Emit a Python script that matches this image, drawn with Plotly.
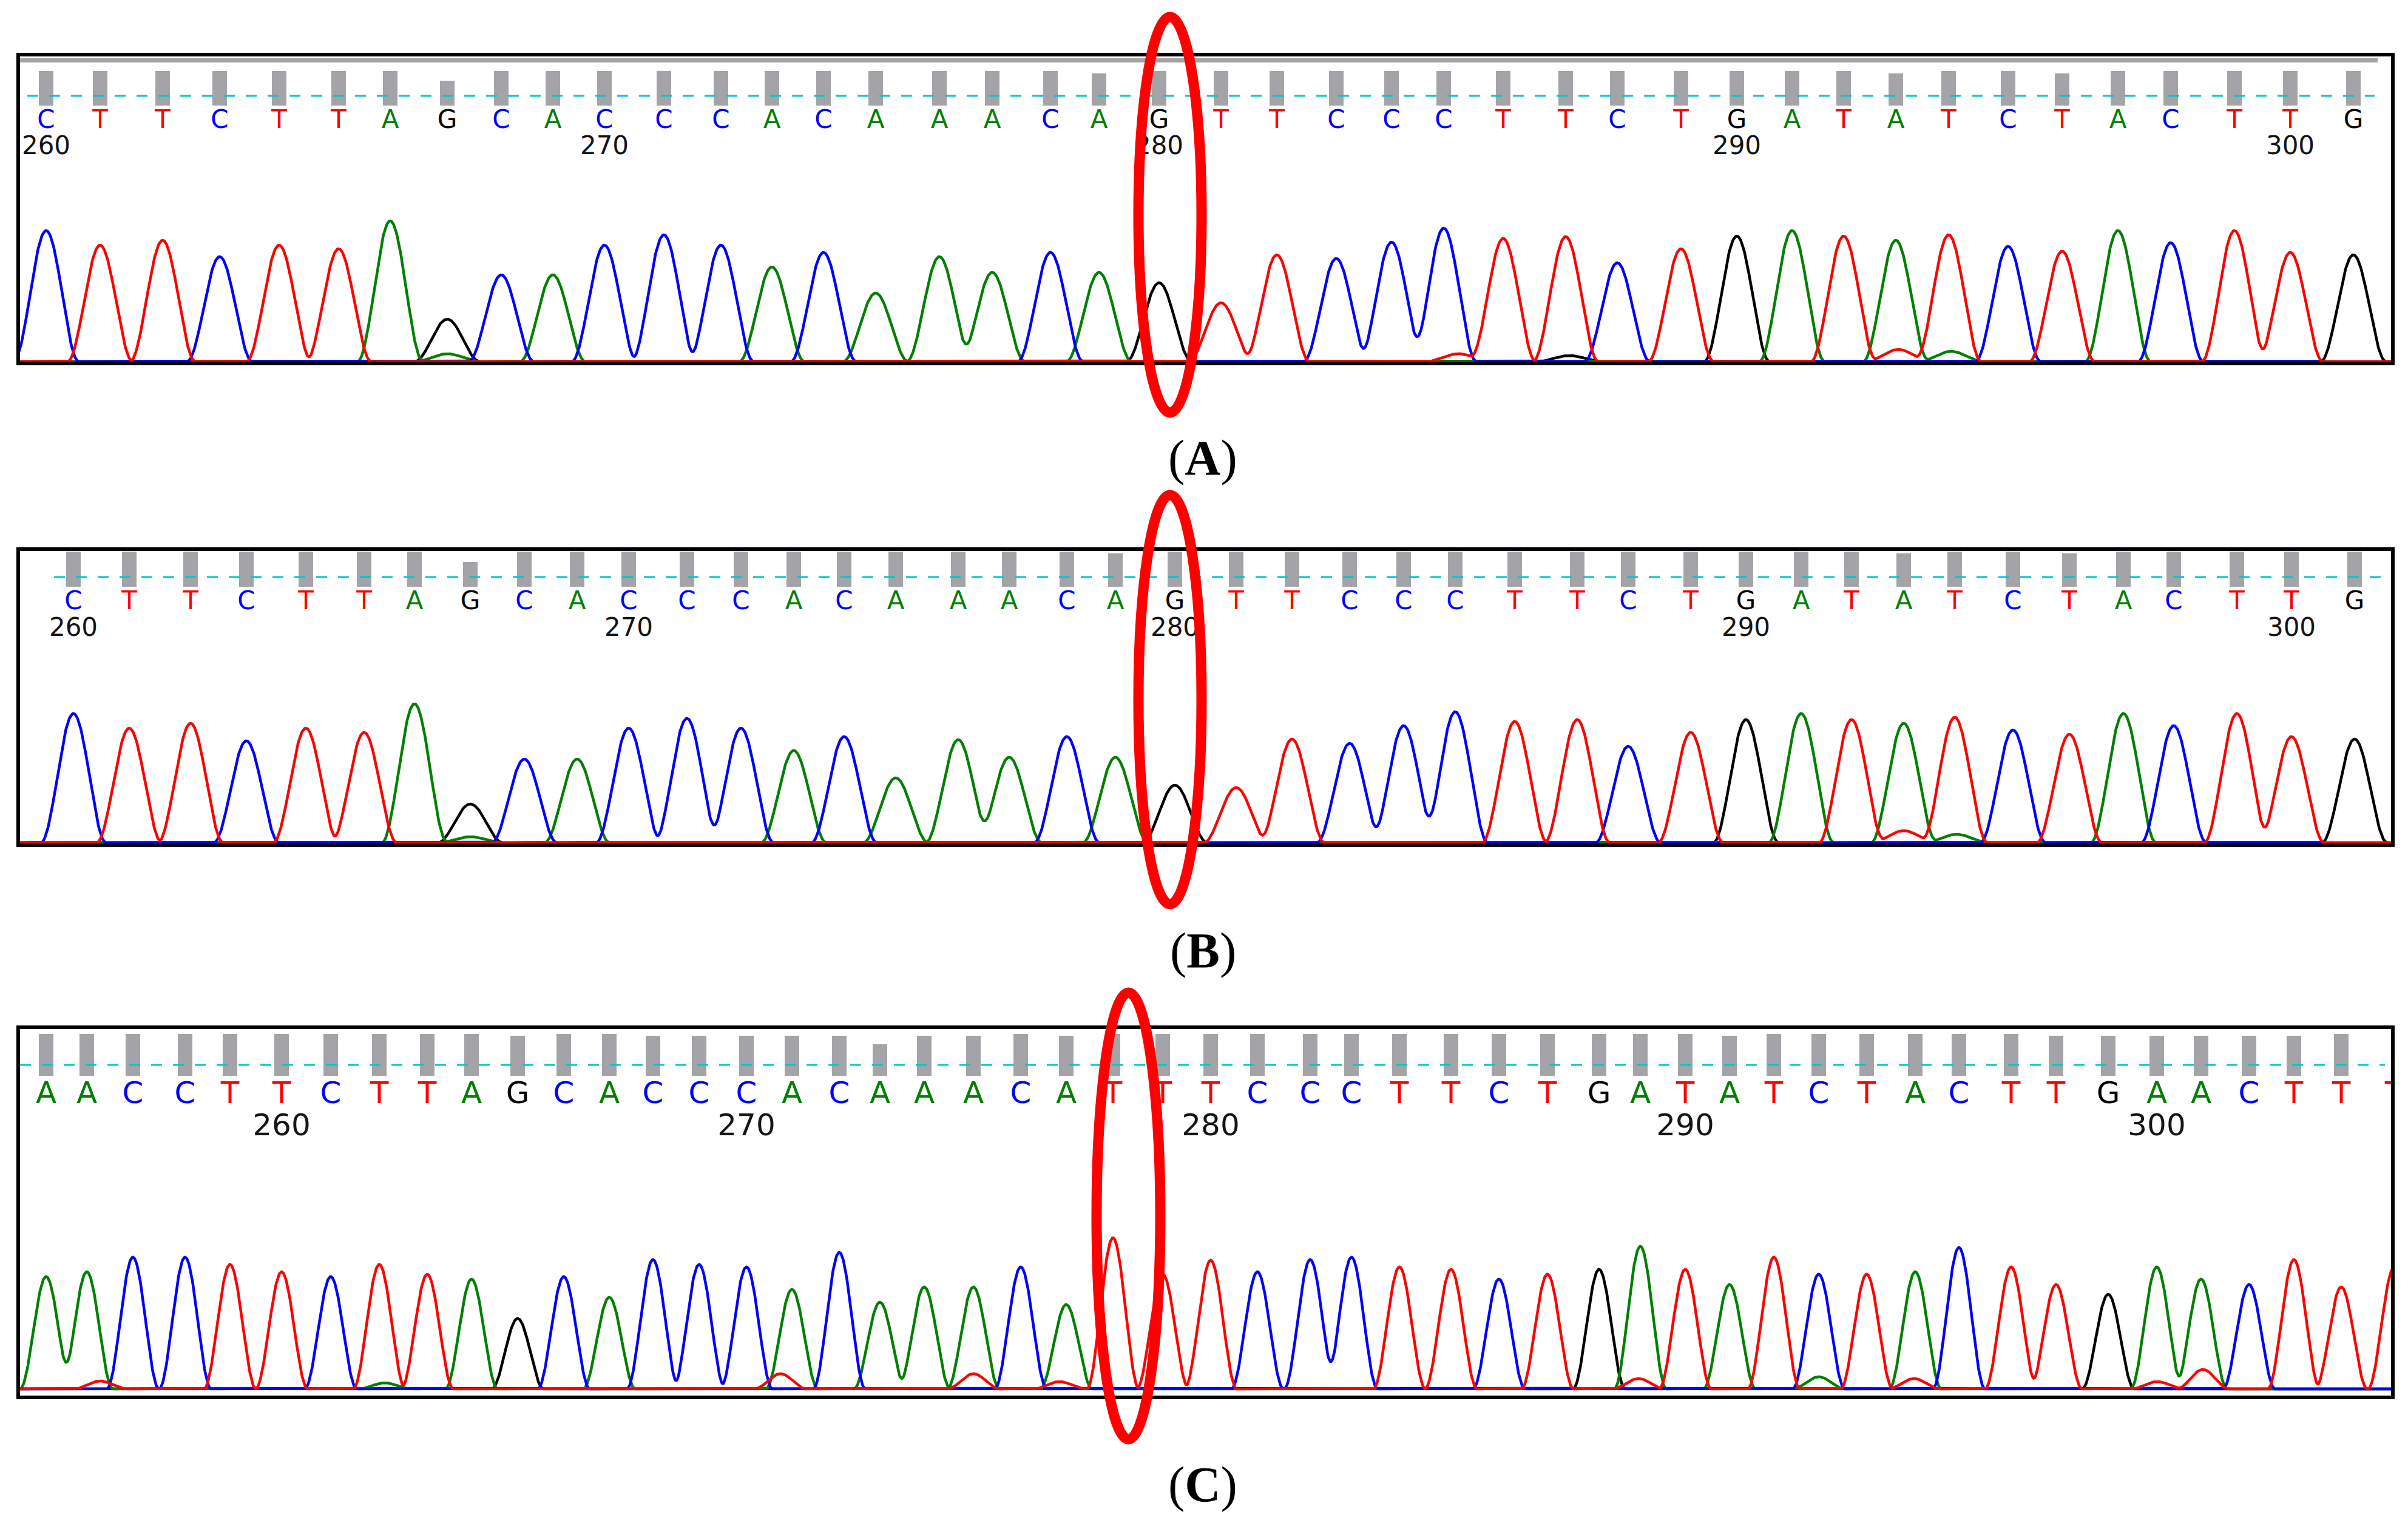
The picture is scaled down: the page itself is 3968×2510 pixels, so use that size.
import numpy as np
import plotly.graph_objects as go

W, H = 3968, 2510

# ---------------- data ----------------
# (A) and (B): same read window, bases 260-301
bases_ab = list("CTTCTTAGCACCCACAAACAGTTCCCTTCTGATATCTACTTG")
first_ab = 260
# (C): bases 255-305
bases_c = list("AACCTTCTTAGCACCCACAAACATTTCCCTTCTGATATCTACTTGAACTTT")
first_c = 255

# peak locations (scan points) of each base call
loc_a = [76, 165, 268, 362, 460, 558, 643, 737, 826, 911, 996, 1094, 1188, 1272, 1357,
         1443, 1548, 1635, 1731, 1811, 1910, 2012, 2104, 2202, 2293, 2379, 2477, 2580, 2665,
         2770, 2862, 2953, 3038, 3124, 3211, 3309, 3398, 3490, 3577, 3682, 3774, 3878]
loc_b = [121, 213, 314, 406, 504, 600, 683, 775, 864, 951, 1036, 1132, 1221, 1308, 1391,
         1476, 1579, 1663, 1758, 1838, 1936, 2037, 2129, 2224, 2313, 2398, 2496, 2599, 2683,
         2786, 2877, 2968, 3051, 3137, 3221, 3317, 3410, 3499, 3582, 3686, 3776, 3880]
loc_c = [76, 143, 219, 305, 379, 464, 545, 625, 704, 777, 853, 929, 1004, 1076, 1152, 1230,
         1305, 1383, 1450, 1523, 1604, 1682, 1757, 1834, 1916, 1995, 2072, 2159, 2227, 2306,
         2391, 2470, 2550, 2635, 2703, 2777, 2850, 2923, 2997, 3076, 3156, 3228, 3314, 3388,
         3474, 3554, 3627, 3706, 3780, 3858, 3945]

# peak heights (signal)
peak_a = [216, 192, 200, 173, 192, 186, 232, 70, 143, 143, 192, 209, 192, 156, 180,
          113, 173, 147, 180, 147, 130, 97, 176, 170, 197, 220, 203, 206, 163,
          186, 207, 216, 207, 200, 209, 190, 182, 216, 196, 216, 180, 176]
peak_b = [213, 189, 197, 168, 189, 182, 229, 64, 138, 138, 189, 205, 189, 152, 175,
          107, 170, 141, 175, 141, 95, 91, 171, 164, 193, 216, 200, 203, 159,
          182, 203, 213, 203, 197, 207, 186, 179, 213, 193, 213, 175, 171]
peak_c = [185, 193, 217, 217, 205, 193, 185, 205, 189, 181, 116, 185, 151, 213, 205, 201,
          164, 225, 143, 168, 168, 201, 139, 249, 189, 212, 193, 213, 217, 201,
          197, 181, 189, 197, 235, 197, 172, 217, 189, 189, 193, 233, 201, 172,
          156, 201, 181, 172, 213, 168, 200]

# quality values (grey bars)
qv_a = [40, 40, 40, 40, 40, 40, 40, 29, 40, 40, 40, 40, 40, 40, 40, 40, 40, 40, 40, 37,
        40, 40, 40, 40, 40, 40, 40, 40, 40, 40, 40, 40, 40, 37, 40, 40, 37, 40, 40, 40,
        40, 40]
qv_b = [40, 40, 40, 40, 40, 40, 40, 28, 40, 40, 40, 40, 40, 40, 40, 40, 40, 40, 40, 38,
        40, 40, 40, 40, 40, 40, 40, 40, 40, 40, 40, 40, 40, 38, 40, 40, 38, 40, 40, 40,
        40, 40]
qv_c = [40, 40, 40, 40, 40, 40, 40, 40, 40, 40, 38, 40, 40, 38, 38, 38, 38, 38, 30, 38,
        38, 40, 38, 40, 40, 40, 40, 40, 40, 40, 40, 40, 40, 40, 40, 40, 38, 40, 40, 40,
        40, 40, 40, 38, 38, 38, 38, 38, 38, 40, 0]

# small secondary peaks: (scan point, channel, height)
minor_a = [(737, "A", 13), (2403, "T", 13), (2586, "G", 10), (3128, "T", 20), (3215, "A", 17)]
minor_b = [(775, "A", 10), (3137, "T", 20), (3224, "A", 14)]
minor_c = [(165, "T", 13), (634, "A", 10), (1286, "T", 25), (1604, "T", 25), (1746, "T", 12),
           (2700, "T", 17), (2997, "A", 20), (3154, "T", 17), (3555, "T", 12), (3630, "T", 32)]

channel_color = {"A": "#008000", "C": "#0000ff", "G": "#000000", "T": "#ff0000"}
draw_order = ["G", "A", "C", "T"]


def px_x(v):
    return v / W


def px_y(v):
    return 1 - v / H


def peak_shape(xs, centre, height, half):
    # raised-cosine peak, FWHM = half
    d = np.abs(xs - centre)
    out = height * np.cos(np.pi * d / (2 * half)) ** 2
    out[d >= half] = 0
    return out


panels = [
    dict(bases=bases_ab, first=first_ab, loc=loc_a, peak=peak_a, qv=qv_a, minor=minor_a,
         box=(30, 3943, 90, 599), base=596, qbar=(117, 174), dash=(158, 45, 3913), letter_y=200,
         num_y=243, font=42, half=54, grey_top=True,
         ellipse=(1876, 1980, 28, 680), label="A", label_y=754),
    dict(bases=bases_ab, first=first_ab, loc=loc_b, peak=peak_b, qv=qv_b, minor=minor_b,
         box=(30, 3943, 905, 1393), base=1389, qbar=(909, 967), dash=(951, 89, 3925), letter_y=993,
         num_y=1037, font=42, half=54, grey_top=False,
         ellipse=(1876, 1980, 816, 1490), label="B", label_y=1566),
    dict(bases=bases_c, first=first_c, loc=loc_c, peak=peak_c, qv=qv_c, minor=minor_c,
         box=(30, 3943, 1693, 2303), base=2289, qbar=(1704, 1773), dash=(1755, 33, 3930),
         letter_y=1805, num_y=1858, font=50, half=43, grey_top=False,
         ellipse=(1807, 1912, 1636, 2372), label="C", label_y=2446),
]

fig = go.Figure()
shapes = []
annotations = []
layout_axes = {}

for k, p in enumerate(panels, start=1):
    xa = "x" if k == 1 else f"x{k}"
    ya = "y" if k == 1 else f"y{k}"
    x0, x1, y0, y1 = p["box"]
    b = p["base"]
    layout_axes["xaxis" if k == 1 else f"xaxis{k}"] = dict(
        domain=[px_x(x0), px_x(x1)], range=[x0, x1], visible=False, anchor=ya, fixedrange=True)
    layout_axes["yaxis" if k == 1 else f"yaxis{k}"] = dict(
        domain=[px_y(y1), px_y(y0)], range=[b - y1, b - y0], visible=False, anchor=xa,
        fixedrange=True)

    # quality bars
    qtop, qbot = p["qbar"]
    qh = qbot - qtop
    fig.add_trace(go.Bar(x=p["loc"], y=[q / 40 * qh for q in p["qv"]], base=b - qbot,
                         width=24, marker=dict(color="#a4a4a8", line_width=0),
                         xaxis=xa, yaxis=ya, showlegend=False, hoverinfo="skip"))

    # cyan dashed line
    dy, dx0, dx1 = p["dash"]
    fig.add_trace(go.Scatter(x=[dx0, dx1], y=[b - dy, b - dy], mode="lines",
                             line=dict(color="#00c8cc", width=3, dash="18px,18px"),
                             xaxis=xa, yaxis=ya, showlegend=False, hoverinfo="skip"))

    # base calls
    fig.add_trace(go.Scatter(x=p["loc"], y=[b - p["letter_y"]] * len(p["loc"]), mode="text",
                             text=p["bases"], textposition="middle center",
                             textfont=dict(family="DejaVu Sans", size=p["font"],
                                           color=[channel_color[c] for c in p["bases"]]),
                             xaxis=xa, yaxis=ya, showlegend=False, hoverinfo="skip"))

    # position numbers
    num_x, num_t = [], []
    for i, xloc in enumerate(p["loc"]):
        if (p["first"] + i) % 10 == 0:
            num_x.append(xloc)
            num_t.append(str(p["first"] + i))
    fig.add_trace(go.Scatter(x=num_x, y=[b - p["num_y"]] * len(num_x), mode="text",
                             text=num_t, textposition="middle center",
                             textfont=dict(family="DejaVu Sans", size=p["font"], color="#151515"),
                             xaxis=xa, yaxis=ya, showlegend=False, hoverinfo="skip"))

    # fluorescence channels
    xs = np.arange(x0, x1 + 1, 1.0)
    for ch in draw_order:
        ys = np.zeros_like(xs)
        for xloc, base_call, h in zip(p["loc"], p["bases"], p["peak"]):
            if base_call == ch:
                ys += peak_shape(xs, xloc, h, p["half"])
        for xloc, mch, h in p["minor"]:
            if mch == ch:
                ys += peak_shape(xs, xloc, h, p["half"])
        fig.add_trace(go.Scatter(x=xs, y=ys, mode="lines",
                                 line=dict(color=channel_color[ch], width=4.5),
                                 xaxis=xa, yaxis=ya, showlegend=False, hoverinfo="skip"))

    # frame
    if p["grey_top"]:
        shapes.append(dict(type="rect", xref="paper", yref="paper",
                           x0=px_x(33), x1=px_x(3918), y0=px_y(103), y1=px_y(96),
                           fillcolor="#a4a4a4", line_width=0, layer="above"))
    shapes.append(dict(type="rect", xref="paper", yref="paper",
                       x0=px_x(x0), x1=px_x(x1), y0=px_y(y1), y1=px_y(y0),
                       line=dict(color="black", width=6), layer="above"))

    # highlight ellipse
    ex0, ex1, ey0, ey1 = p["ellipse"]
    shapes.append(dict(type="circle", xref="paper", yref="paper",
                       x0=px_x(ex0), x1=px_x(ex1), y0=px_y(ey1), y1=px_y(ey0),
                       line=dict(color="#ff0000", width=17), layer="above"))

    annotations.append(dict(text=f"(<b>{p['label']}</b>)", xref="paper", yref="paper",
                            x=px_x(1982), y=px_y(p["label_y"]), xanchor="center",
                            yanchor="middle", showarrow=False,
                            font=dict(family="Liberation Serif", size=82, color="black")))

fig.update_layout(
    width=W, height=H, autosize=False,
    margin=dict(l=0, r=0, t=0, b=0),
    paper_bgcolor="white", plot_bgcolor="white",
    bargap=0, barmode="overlay",
    shapes=shapes, annotations=annotations,
    **layout_axes,
)

fig.write_html("out.html", config={"displayModeBar": False},
               post_script="document.body.style.margin = '0';")
